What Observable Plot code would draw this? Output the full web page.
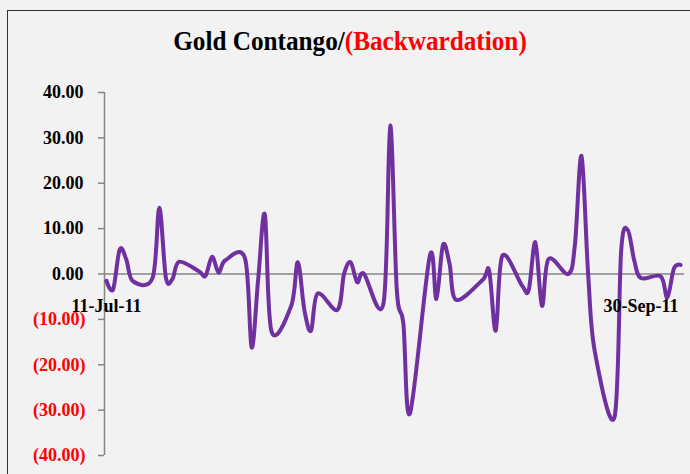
<!DOCTYPE html>
<html>
<head>
<meta charset="utf-8">
<script src="https://cdn.jsdelivr.net/npm/d3@7"></script>
<script src="https://cdn.jsdelivr.net/npm/@observablehq/plot@0.6"></script>
<style>
  html, body { margin: 0; padding: 0; background: #f2f2f2; }
  #wrap { position: relative; width: 690px; height: 474px; overflow: hidden; background: #f2f2f2; }
  #box { position: absolute; left: 7px; top: 10px; width: 800px; height: 600px; border: 1.5px solid #303030; box-sizing: border-box; }
  #title { position: absolute; left: 0; top: 25px; width: 700px; text-align: center;
           font-family: "Liberation Serif", serif; font-weight: bold; font-size: 28px;
           transform: scaleX(0.9); transform-origin: 350px 0; }
  #title .neg { color: #ff0000; }
  #chart { position: absolute; left: 0; top: 0; }
</style>
</head>
<body>
<div id="wrap">
  <div id="box"></div>
  <div id="chart"></div>
  <div id="title"><span>Gold Contango/</span><span class="neg">(Backwardation)</span></div>
</div>
<script>
// Trading dates (category values)
const dates = [
  "2011-07-11","2011-07-12","2011-07-13","2011-07-14","2011-07-15",
  "2011-07-18","2011-07-19","2011-07-20","2011-07-21","2011-07-22",
  "2011-07-25","2011-07-26","2011-07-27","2011-07-28","2011-07-29",
  "2011-08-01","2011-08-02","2011-08-03","2011-08-04","2011-08-05",
  "2011-08-08","2011-08-09","2011-08-10","2011-08-11","2011-08-12",
  "2011-08-15","2011-08-16","2011-08-17","2011-08-18","2011-08-19",
  "2011-08-22","2011-08-23","2011-08-24","2011-08-25","2011-08-26",
  "2011-08-29","2011-08-30","2011-08-31","2011-09-01","2011-09-02",
  "2011-09-06","2011-09-07","2011-09-08","2011-09-09",
  "2011-09-12","2011-09-13","2011-09-14","2011-09-15","2011-09-16",
  "2011-09-19","2011-09-20","2011-09-21","2011-09-22","2011-09-23",
  "2011-09-26","2011-09-27","2011-09-28","2011-09-29","2011-09-30",
  "2011-10-03","2011-10-04","2011-10-05","2011-10-06"
];
// Contango (+) / Backwardation (-) values
const values = [
  -1.5, -3.4, 5.4, 3.2, -1.6,
  -0.8, 14.6, -0.8, -1.1, 2.7,
  0.6, -0.4, 3.8, 0.3, 3.0,
  3.4, -16.2, -1.0, 13.1, -12.6,
  -7.0, 2.6, -8.0, -12.5, -4.3,
  -7.9, 0.0, 2.6, -1.8, 0.1,
  -6.3, 32.7, -3.5, -11.0, -30.7,
  4.0, -5.5, 6.4, 2.2, -5.7,
  -1.3, 0.7, -12.5, 4.0,
  -2.6, -3.5, 7.0, -7.0, 3.3,
  0.0, 6.5, 26.0, 0.0, -17.0,
  -31.5, 5.0, 9.7, 2.9, -0.9,
  -0.5, -5.2, 1.2, 2.0
];
const yTicks = [40, 30, 20, 10, 0, -10, -20, -30, -40];
const yTickLabels = ["40.00", "30.00", "20.00", "10.00", "0.00", "(10.00)", "(20.00)", "(30.00)", "(40.00)"];
const xTickDates = ["2011-07-11", "2011-09-30"];
const xTickLabels = ["11-Jul-11", "30-Sep-11"];
const xDomain = ["2011-07-11", "2011-10-06"];

const data = dates.map((d, i) => ({date: new Date(d), value: values[i]}));
const yData = yTicks.map((v, i) => ({v, label: yTickLabels[i]}));
const xData = xTickDates.map((d, i) => ({date: new Date(d), label: xTickLabels[i]}));

const axisColor = "#868686";
const font = "'Liberation Serif', serif";

const chart = Plot.plot({
  width: 690,
  height: 474,
  marginLeft: 104,
  marginRight: 6,
  marginTop: 92,
  marginBottom: 19,
  x: {type: "utc", domain: xDomain.map(d => new Date(d)), range: [106, 680], axis: null},
  y: {domain: [-40, 40], axis: null},
  style: {background: "transparent", fontFamily: font, overflow: "visible"},
  marks: [
    Plot.axisY({ticks: yTicks, tickSize: 6, tickFormat: () => "", stroke: axisColor, strokeWidth: 1.5, label: null}),
    Plot.ruleX([new Date(xDomain[0])], {y1: -40, y2: 40, dx: -2, stroke: axisColor, strokeWidth: 1.5}),
    Plot.ruleY([0], {stroke: axisColor, strokeWidth: 1.5}),
    Plot.text(yData.filter(d => d.v >= 0), {frameAnchor: "left", y: "v", text: "label", textAnchor: "end", dx: -21,
      fill: "#000000", fontSize: 18, fontWeight: "bold", fontFamily: font}),
    Plot.text(yData.filter(d => d.v < 0), {frameAnchor: "left", y: "v", text: "label", textAnchor: "end", dx: -19,
      fill: "#ff0000", fontSize: 18, fontWeight: "bold", fontFamily: font}),
    Plot.line(data, {x: "date", y: "value", stroke: "#7030a0", strokeWidth: 4, curve: "cardinal", tension: 0, strokeLinejoin: "round", strokeLinecap: "round"}),
    Plot.text(xData, {x: "date", y: () => 0, text: "label", dy: 32, fill: "#000000", fontSize: 18, fontWeight: "bold", fontFamily: font})
  ]
});
document.getElementById("chart").appendChild(chart);
</script>
</body>
</html>
